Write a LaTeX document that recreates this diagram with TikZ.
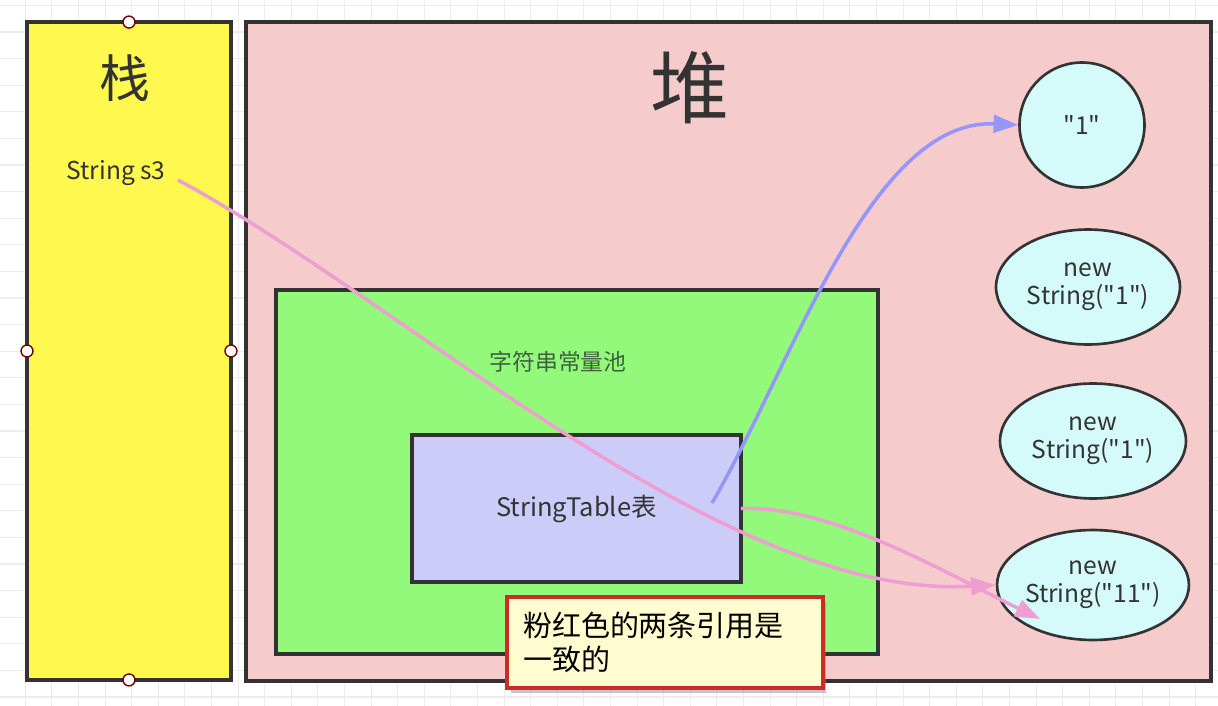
\documentclass[tikz,border=0pt]{standalone}
\usepackage{fontspec}
\usepackage{tikz}
\usetikzlibrary{arrows.meta,shapes.geometric,shadows}
\newfontfamily\cjk{Noto Sans CJK SC}[Ligatures=TeXOff]

\definecolor{stackyellow}{RGB}{255,249,79}
\definecolor{heappink}{RGB}{245,203,203}
\definecolor{poolgreen}{RGB}{146,249,122}
\definecolor{tableblue}{RGB}{204,204,248}
\definecolor{objcyan}{RGB}{212,250,250}
\definecolor{notefill}{RGB}{255,253,208}
\definecolor{notered}{RGB}{204,44,34}
\definecolor{refpink}{RGB}{238,158,208}
\definecolor{refblue}{RGB}{150,150,250}
\definecolor{ink}{RGB}{51,51,51}
\definecolor{poolink}{RGB}{64,96,64}
\definecolor{gridgray}{RGB}{236,236,236}

\tikzset{
  area/.style={draw=ink, line width=2pt, inner sep=0pt, outer sep=0pt},
  obj/.style={ellipse, draw=ink, line width=1.5pt, fill=objcyan, align=center,
    inner sep=0pt, font=\cjk\fontsize{14}{16}\selectfont},
  handle/.style={circle, draw=red!45!black, fill=white, line width=0.8pt,
    minimum size=6.8pt, inner sep=0pt},
  ref/.style={line width=2pt, -{Triangle[length=14pt,width=10pt]}}
}

\begin{document}
\begin{tikzpicture}[x=0.02cm, y=-0.02cm, font=\cjk, text=ink]
\useasboundingbox (0,0) rectangle (1218,706);
\fill[white] (0,0) rectangle (1218,706);
% grid
\foreach \i in {0,...,44}
  \draw[gridgray, line width=0.6pt] (25.3+26.6*\i,0) -- (25.3+26.6*\i,706);
\foreach \j in {0,...,26}
  \draw[gridgray, line width=0.6pt] (0,5.4+26.6*\j) -- (1218,5.4+26.6*\j);

% stack
\node[area, fill=stackyellow, minimum width=4.08cm, minimum height=13.16cm] (stack) at (129,351) {};
\node[font=\cjk\fontsize{29}{30}\selectfont] (stacktitle) at (125,78) {栈};
\node[font=\cjk\fontsize{14}{16}\selectfont] (s3) at (116,173) {String s3};
\foreach \a in {north,south,east,west}
  \node[handle] (h\a) at (stack.\a) {};

% heap
\node[area, fill=heappink, minimum width=19.3cm, minimum height=13.18cm] (heap) at (728.5,351.5) {};
\node[font=\cjk\fontsize{45}{46}\selectfont] (heaptitle) at (690,88) {堆};

% string pool
\node[area, fill=poolgreen, minimum width=12.04cm, minimum height=7.28cm] (pool) at (577,472) {};
\node[text=poolink, font=\cjk\fontsize{13}{15}\selectfont] (pooltitle) at (558,362) {字符串常量池};
\node[area, fill=tableblue, minimum width=6.58cm, minimum height=2.94cm,
  font=\cjk\fontsize{14.5}{17}\selectfont] (table) at (576.5,508.5) {StringTable表};

% objects
\node[obj, circle, minimum size=2.5cm] (one) at (1082,125) {"1"};
\node[obj, minimum width=3.68cm, minimum height=2.3cm] (newa) at (1088,287) {new\\String("1")};
\node[obj, minimum width=3.72cm, minimum height=2.3cm] (newb) at (1093,441) {new\\String("1")};
\node[obj, minimum width=3.7cm, minimum height=2.2cm] (newc) at (1093,585) {new\\String("11")};

% references
\coordinate (s3out) at (178,180);
\coordinate (tablein) at (712,503);
\coordinate (newcin) at (1040,619);
\draw[ref, refblue] (tablein) .. controls (790,370) and (870,118) .. (one.west);
\draw[ref, refpink] (s3out) .. controls (410,305) and (720,600) .. (newc.west);
\draw[ref, refpink] (table.east) .. controls (830,505) and (940,570) .. (newcin);

% note
\node[draw=notered, line width=1.8pt, fill=notefill,
  drop shadow={shadow xshift=2pt, shadow yshift=-3pt, opacity=0.45, fill=gray},
  minimum height=1.82cm, text width=5.68cm, inner xsep=0.32cm, align=left,
  text=black, font=\cjk\fontsize{16.5}{19}\selectfont] (note) at (665,642.5)
  {粉红色的两条引用是\\一致的};
\end{tikzpicture}
\end{document}
